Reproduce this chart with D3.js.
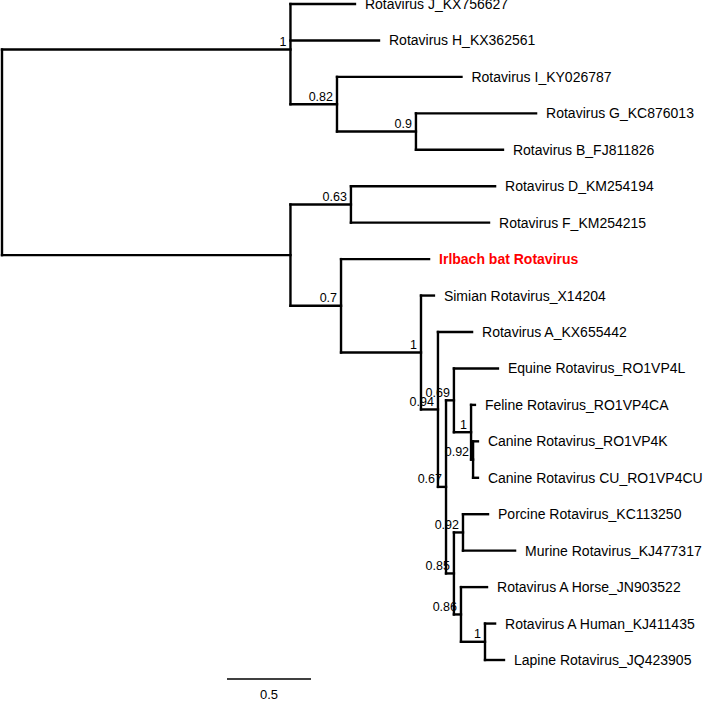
<!DOCTYPE html>
<html>
<head>
<meta charset="utf-8">
<script src="https://cdn.jsdelivr.net/npm/d3@7"></script>
<style>
  html, body { margin: 0; padding: 0; background: #fff; }
  svg { display: block; }
</style>
</head>
<body>
<svg id="chart" width="708" height="702"></svg>
<script>
// ---- Data ----
// Internal nodes: id, parent, branch length, support
const internalIds      = ["root", "cladeUp", "n082", "n09", "cladeLow", "n063", "n07", "n1a", "n094", "n067", "n069", "n1b", "n092b", "n085", "n092c", "n086", "n1c"];
const internalParents  = ["",     "root",    "cladeUp", "n082", "root", "cladeLow", "cladeLow", "n07", "n1a", "n094", "n067", "n069", "n1b", "n067", "n085", "n085", "n086"];
const internalLengths  = [0,      1.717,     0.277,  0.470,  1.717,     0.360,  0.301,  0.476,  0.101,  0.048,  0.047,  0.102,  0.012,  0.047,  0.054,  0.042,  0.143];
const supportValues    = ["",     "1",       "0.82", "0.9",  "",        "0.63", "0.7",  "1",    "0.94", "0.67", "0.69", "1",    "0.92", "0.85", "0.92", "0.86", "1"];

// Leaves (top to bottom): name, parent, branch length
const leafNames = [
  "Rotavirus J_KX756627", "Rotavirus H_KX362561", "Rotavirus I_KY026787",
  "Rotavirus G_KC876013", "Rotavirus B_FJ811826", "Rotavirus D_KM254194",
  "Rotavirus F_KM254215", "Irlbach bat Rotavirus", "Simian Rotavirus_X14204",
  "Rotavirus A_KX655442", "Equine Rotavirus_RO1VP4L", "Feline Rotavirus_RO1VP4CA",
  "Canine Rotavirus_RO1VP4K", "Canine Rotavirus CU_RO1VP4CU", "Porcine Rotavirus_KC113250",
  "Murine Rotavirus_KJ477317", "Rotavirus A Horse_JN903522", "Rotavirus A Human_KJ411435",
  "Lapine Rotavirus_JQ423905"
];
const leafParents = ["cladeUp", "cladeUp", "n082", "n09", "n09", "n063", "n063", "n07", "n1a",
  "n094", "n069", "n1b", "n092b", "n092b", "n092c", "n092c", "n086", "n1c", "n1c"];
const leafLengths = [0.384, 0.527, 0.741, 0.715, 0.518, 0.858, 0.822, 0.524, 0.077,
  0.203, 0.262, 0.023, 0.029, 0.029, 0.149, 0.310, 0.155, 0.060, 0.113];
const highlightLeaf = "Irlbach bat Rotavirus";
const scaleBarValue = 0.5;
const scaleBarLabel = "0.5";

// ---- Build hierarchy ----
const rows = [];
internalIds.forEach((id, i) => rows.push({ id, parent: internalParents[i] || null, len: internalLengths[i], support: supportValues[i], leaf: false }));
leafNames.forEach((name, i) => rows.push({ id: name, parent: leafParents[i], len: leafLengths[i], support: "", leaf: true, order: i }));

const root = d3.stratify().id(d => d.id).parentId(d => d.parent)(rows);
// Sort children so leaves follow the given order
root.each(n => { n.minOrder = Infinity; });
root.leaves().forEach(l => {
  let n = l;
  while (n) { n.minOrder = Math.min(n.minOrder, l.data.order); n = n.parent; }
});
root.sort((a, b) => a.minOrder - b.minOrder);

// cumulative distance
root.each(n => { n.dist = n.parent ? n.parent.dist + n.data.len : 0; });

// scales
const x = d3.scaleLinear().domain([0, 0.5]).range([2, 86]);
const y = d3.scalePoint().domain(leafNames).range([4, 660]);

root.eachAfter(n => {
  n.px = x(n.dist);
  if (!n.children) n.py = y(n.data.id);
  else n.py = d3.mean(n.children, c => c.py);
});

const svg = d3.select("#chart");
const g = svg.append("g");

// branches
g.selectAll("path.branch")
  .data(root.descendants().filter(d => d.parent))
  .join("path")
  .attr("class", "branch")
  .attr("d", d => `M${d.parent.px},${d.py}H${d.px}`)
  .attr("fill", "none")
  .attr("stroke", "#000")
  .attr("stroke-width", 2.4)
  .attr("stroke-linecap", "square");

g.selectAll("path.vert")
  .data(root.descendants().filter(d => d.children))
  .join("path")
  .attr("class", "vert")
  .attr("d", d => `M${d.px},${d.children[0].py}V${d.children[d.children.length - 1].py}`)
  .attr("fill", "none")
  .attr("stroke", "#000")
  .attr("stroke-width", 2.4)
  .attr("stroke-linecap", "square");

// leaf labels
g.selectAll("text.leaf")
  .data(root.leaves())
  .join("text")
  .attr("class", "leaf")
  .attr("x", d => d.px + 10)
  .attr("y", d => d.py)
  .attr("dy", "0.36em")
  .attr("font-family", "Arial, 'Liberation Sans', Helvetica, sans-serif")
  .attr("font-size", 14)
  .attr("font-weight", d => d.data.id === highlightLeaf ? "bold" : "normal")
  .attr("fill", d => d.data.id === highlightLeaf ? "#ff0000" : "#000")
  .text(d => d.data.id);

// support labels
g.selectAll("text.support")
  .data(root.descendants().filter(d => d.children && d.data.support))
  .join("text")
  .attr("class", "support")
  .attr("x", d => d.px - 4)
  .attr("y", d => d.py - 3.5)
  .attr("text-anchor", "end")
  .attr("font-family", "Arial, 'Liberation Sans', Helvetica, sans-serif")
  .attr("font-size", 12.5)
  .attr("fill", "#000")
  .text(d => d.data.support);

// scale bar
const sbX0 = 227, sbY = 679;
const sbLen = x(scaleBarValue) - x(0);
svg.append("line")
  .attr("x1", sbX0).attr("x2", sbX0 + sbLen)
  .attr("y1", sbY).attr("y2", sbY)
  .attr("stroke", "#000").attr("stroke-width", 1.5);
svg.append("text")
  .attr("x", sbX0 + sbLen / 2)
  .attr("y", sbY + 20)
  .attr("text-anchor", "middle")
  .attr("font-family", "Arial, 'Liberation Sans', Helvetica, sans-serif")
  .attr("font-size", 13)
  .attr("fill", "#000")
  .text(scaleBarLabel);
</script>
</body>
</html>
